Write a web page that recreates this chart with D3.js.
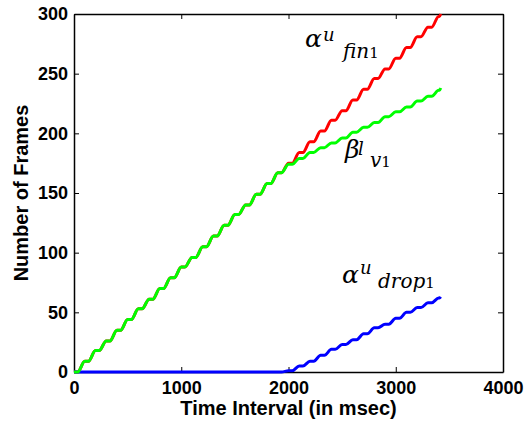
<!DOCTYPE html>
<html>
<head>
<meta charset="utf-8">
<script src="https://cdnjs.cloudflare.com/ajax/libs/d3/7.8.5/d3.min.js"></script>
<style>
  body { margin: 0; background: #fff; }
  .tick text { font-family: "Liberation Sans", Arial, sans-serif; font-weight: bold; font-size: 18px; fill: #000; }
  .axis-title { font-family: "Liberation Sans", Arial, sans-serif; font-weight: bold; font-size: 20px; }
  .math { font-family: "DejaVu Serif", serif; font-style: italic; fill: #000; }
</style>
</head>
<body>
<div id="chart-container"></div>
<script>
// time axis samples (msec)
const times = [0, 100, 200, 300, 400, 500, 600, 700, 800, 900, 1000, 1100, 1200, 1300, 1400, 1500, 1600, 1700, 1800, 1900,
  2000, 2100, 2200, 2300, 2400, 2500, 2600, 2700, 2800, 2900, 3000, 3100, 3200, 3300, 3400, 3420];

// alpha^u_fin1 (red)
const alphaFin = [0, 9, 18, 26, 35, 44, 53, 61, 70, 79, 88, 96, 105, 114, 123, 132, 140, 149, 158, 167,
  175, 184, 193, 202, 211, 219, 228, 237, 246, 254, 263, 272, 281, 289, 298, 300];

// beta^l_v1 (green)
const betaV = [0, 9, 18, 26, 35, 44, 53, 61, 70, 79, 88, 96, 105, 114, 123, 132, 140, 149, 158, 167,
  174, 179, 184, 188, 192, 196, 201, 205, 209, 214, 218, 222, 227, 231, 236, 238];

// alpha^u_drop1 (blue)
const alphaDrop = [0, 0, 0, 0, 0, 0, 0, 0, 0, 0, 0, 0, 0, 0, 0, 0, 0, 0, 0, 0,
  1, 5, 9, 14, 19, 23, 27, 32, 37, 40, 45, 50, 54, 58, 62, 63];

const xTicks = [0, 1000, 2000, 3000, 4000];
const yTicks = [0, 50, 100, 150, 200, 250, 300];

const margin = { top: 14, right: 25, bottom: 54, left: 74 };
const width = 528 - margin.left - margin.right;
const height = 426 - margin.top - margin.bottom;

const x = d3.scaleLinear().domain([0, 4000]).range([0, width]);
const y = d3.scaleLinear().domain([0, 300]).range([height, 0]);

const svg = d3.select("#chart-container")
  .append("svg")
  .attr("width", 528)
  .attr("height", 426)
  .append("g")
  .attr("transform", `translate(${margin.left},${margin.top})`);

// axes, MATLAB style: ticks pointing inward, boxed
const styleAxis = g => {
  g.select(".domain").attr("stroke", "#000").attr("stroke-width", 1.5).attr("fill", "none");
  g.selectAll(".tick line").attr("stroke", "#000").attr("stroke-width", 1);
};

svg.append("g")
  .attr("transform", `translate(0,${height})`)
  .call(d3.axisBottom(x).tickValues(xTicks).tickFormat(d3.format("d"))
    .tickSizeInner(-5).tickSizeOuter(0).tickPadding(9))
  .call(styleAxis);

svg.append("g")
  .call(d3.axisTop(x).tickValues(xTicks).tickSizeInner(-5).tickSizeOuter(0).tickFormat(""))
  .call(styleAxis);

svg.append("g")
  .call(d3.axisLeft(y).tickValues(yTicks).tickFormat(d3.format("d"))
    .tickSizeInner(-5).tickSizeOuter(0).tickPadding(6))
  .call(styleAxis);

svg.append("g")
  .attr("transform", `translate(${width},0)`)
  .call(d3.axisRight(y).tickValues(yTicks).tickSizeInner(-5).tickSizeOuter(0).tickFormat(""))
  .call(styleAxis);

// staircase look: hold each value briefly, then climb to the next one
function stepPoints(vals) {
  const pts = [];
  vals.forEach((v, i) => {
    pts.push([times[i], v]);
    if (i < vals.length - 1) pts.push([times[i] + (times[i + 1] - times[i]) * 0.35, v]);
  });
  return pts;
}

const line = d3.line()
  .x(d => x(d[0]))
  .y(d => y(d[1]))
  .curve(d3.curveMonotoneX);

const series = [
  { vals: alphaFin, color: "#ff0000" },
  { vals: alphaDrop, color: "#0000ff" },
  { vals: betaV, color: "#00ff00" }
];

series.forEach(s => {
  svg.append("path")
    .datum(stepPoints(s.vals))
    .attr("fill", "none")
    .attr("stroke", s.color)
    .attr("stroke-width", 3)
    .attr("stroke-linejoin", "round")
    .attr("d", line);
});

// curve labels (anchor in data units, piece offsets in px)
const labels = [
  { t: 2154, v: 272, base: "\u03b1", sup: "u", sub: "fin", idx: "1", supDx: 18, supDy: -6, subDx: 38, subDy: 11 },
  { t: 2527, v: 179, base: "\u03b2", sup: "l", sub: "v", idx: "1", supDx: 13, supDy: -3, subDx: 25, subDy: 9 },
  { t: 2499, v: 75, base: "\u03b1", sup: "u", sub: "drop", idx: "1", supDx: 18, supDy: -9, subDx: 36, subDy: 5 }
];

labels.forEach(l => {
  const x0 = x(l.t);
  const y0 = y(l.v);
  const txt = svg.append("text").attr("class", "math");
  txt.append("tspan").attr("x", x0).attr("y", y0).style("font-size", "25px").text(l.base);
  txt.append("tspan").attr("x", x0 + l.supDx).attr("y", y0 + l.supDy).style("font-size", "18px").text(l.sup);
  txt.append("tspan").attr("x", x0 + l.subDx).attr("y", y0 + l.subDy).style("font-size", "20px").text(l.sub);
  txt.append("tspan").style("font-size", "15px").style("font-style", "normal").text(l.idx);
});

// axis titles
svg.append("text")
  .attr("class", "axis-title")
  .attr("x", width / 2)
  .attr("y", height + 43)
  .style("text-anchor", "middle")
  .text("Time Interval (in msec)");

svg.append("text")
  .attr("class", "axis-title")
  .attr("transform", "rotate(-90)")
  .attr("x", -height / 2)
  .attr("y", -46)
  .style("text-anchor", "middle")
  .text("Number of Frames");
</script>
</body>
</html>
